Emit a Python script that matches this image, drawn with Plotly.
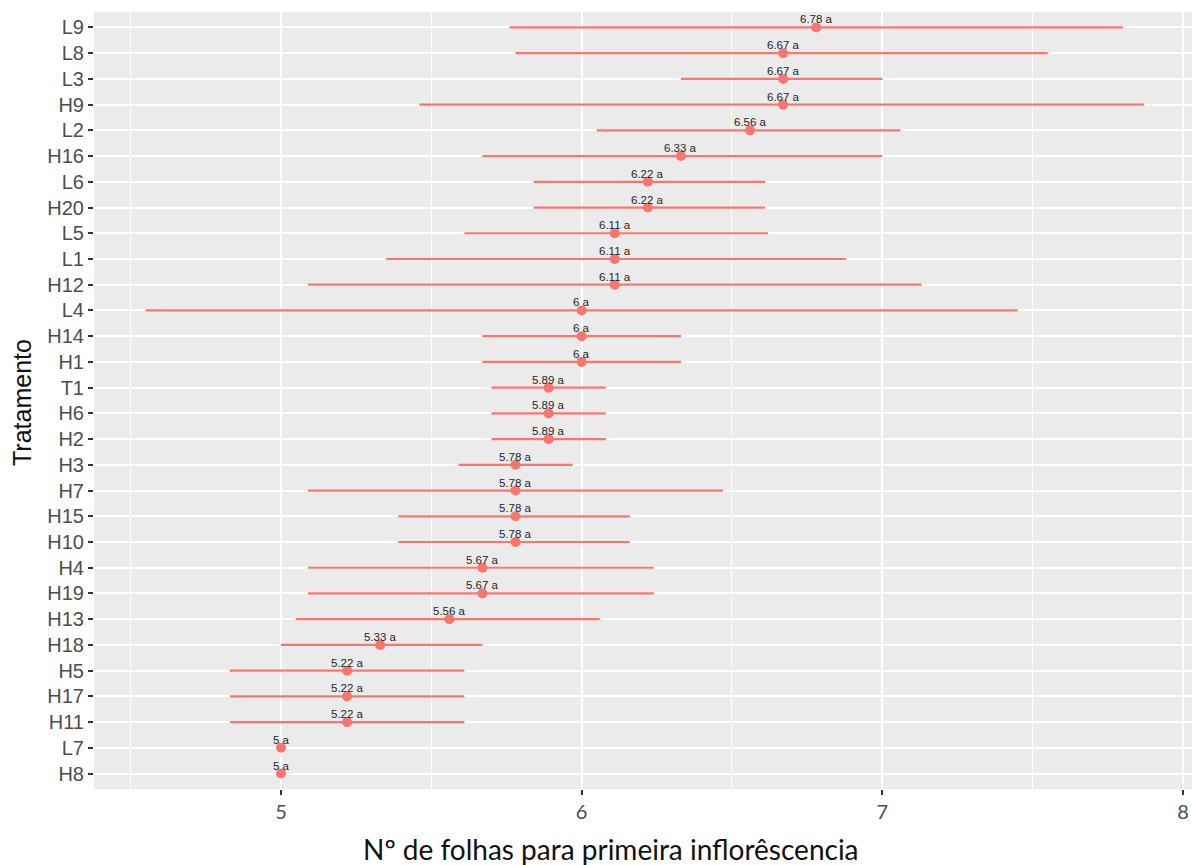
import plotly.graph_objects as go

# ---- data (top to bottom as displayed) ----
treatments = ["L9", "L8", "L3", "H9", "L2", "H16", "L6", "H20", "L5", "L1",
              "H12", "L4", "H14", "H1", "T1", "H6", "H2", "H3", "H7", "H15",
              "H10", "H4", "H19", "H13", "H18", "H5", "H17", "H11", "L7", "H8"]
means = [6.78, 6.67, 6.67, 6.67, 6.56, 6.33, 6.22, 6.22, 6.11, 6.11,
         6.11, 6.00, 6.00, 6.00, 5.89, 5.89, 5.89, 5.78, 5.78, 5.78,
         5.78, 5.67, 5.67, 5.56, 5.33, 5.22, 5.22, 5.22, 5.00, 5.00]
lower = [5.76, 5.78, 6.33, 5.46, 6.05, 5.67, 5.84, 5.84, 5.61, 5.35,
         5.09, 4.55, 5.67, 5.67, 5.70, 5.70, 5.70, 5.59, 5.09, 5.39,
         5.39, 5.09, 5.09, 5.05, 5.00, 4.83, 4.83, 4.83, 5.00, 5.00]
upper = [7.80, 7.55, 7.00, 7.87, 7.06, 7.00, 6.61, 6.61, 6.62, 6.88,
         7.13, 7.45, 6.33, 6.33, 6.08, 6.08, 6.08, 5.97, 6.47, 6.16,
         6.16, 6.24, 6.24, 6.06, 5.67, 5.61, 5.61, 5.61, 5.00, 5.00]
letters = ["a"] * len(treatments)
x_ticks = [5, 6, 7, 8]
x_minor = [4.5, 5.5, 6.5, 7.5]
x_title = "N\u00ba de folhas para primeira inflor\u00eascencia"
y_title = "Tratamento"

COLOR = "#F8766D"

err_plus = [u - m for u, m in zip(upper, means)]
err_minus = [m - l for m, l in zip(means, lower)]

fig = go.Figure()
fig.add_trace(go.Scatter(
    x=means, y=treatments, mode="markers",
    marker=dict(color=COLOR, size=10),
    error_x=dict(type="data", symmetric=False, array=err_plus,
                 arrayminus=err_minus, width=0, thickness=2.2, color=COLOR),
    showlegend=False, hoverinfo="x+y",
))

for t, m, l in zip(treatments, means, letters):
    fig.add_annotation(
        x=m, y=t, text=f"{round(m, 2):g} {l}", showarrow=False,
        yshift=8, xanchor="center", yanchor="middle",
        font=dict(family="Liberation Sans, Arial", size=11.5, color="#262626"),
    )

# axis titles as annotations
fig.add_annotation(
    xref="paper", yref="paper", x=0.471, y=-0.077,
    text=x_title, showarrow=False, xanchor="center", yanchor="middle",
    font=dict(family="Lato, Noto Sans", size=28, color="#111111"),
)
fig.add_annotation(
    xref="paper", yref="paper", x=-0.0656, y=0.498, textangle=-90,
    text=y_title, showarrow=False, xanchor="center", yanchor="middle",
    font=dict(family="Liberation Sans, Arial", size=25, color="#111111"),
)

fig.update_layout(
    width=1192, height=865,
    margin=dict(l=94, r=0, t=12, b=76),
    paper_bgcolor="white", plot_bgcolor="#EBEBEB",
    xaxis=dict(
        range=[4.378, 8.03], tickvals=x_ticks, ticktext=[str(v) for v in x_ticks],
        showgrid=True, gridcolor="white", gridwidth=2, zeroline=False,
        ticks="outside", ticklen=5, tickwidth=2, tickcolor="#333333",
        tickfont=dict(family="Lato, Noto Sans", size=20, color="#4D4D4D"),
        minor=dict(tickvals=x_minor, showgrid=True, gridcolor="white",
                   gridwidth=1, ticks=""),
        showline=False,
    ),
    yaxis=dict(
        type="category", categoryorder="array",
        categoryarray=list(reversed(treatments)),
        range=[-0.6, len(treatments) - 0.4],
        showgrid=True, gridcolor="white", gridwidth=2, zeroline=False,
        ticks="outside", ticklen=5, tickwidth=2, tickcolor="#333333",
        tickfont=dict(family="Liberation Sans, Arial", size=20, color="#4D4D4D"),
        showline=False,
    ),
)

fig.write_html("out.html")
